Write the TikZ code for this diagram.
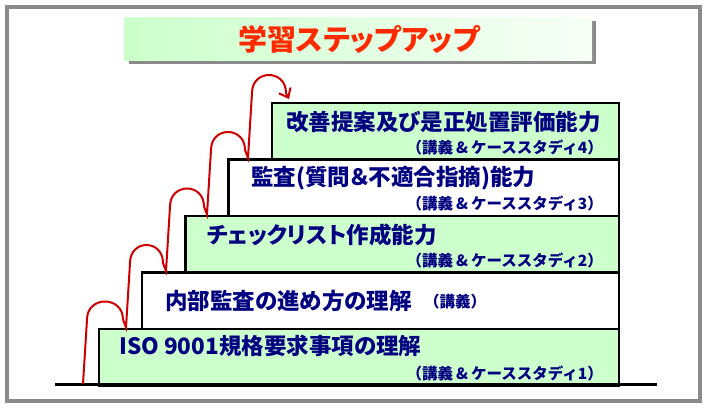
\documentclass[tikz,border=0pt]{standalone}
\usepackage{fontspec}
\usepackage{xcolor}
\usepackage{tikz}
\usetikzlibrary{arrows.meta}
\newfontfamily\jpmain{Noto Sans CJK JP}[RawFeature=+palt]
\newfontfamily\jpsub{Noto Sans CJK JP}
\definecolor{stepgreen}{HTML}{CCFFCC}
\definecolor{inkblue}{HTML}{000080}
\definecolor{hopred}{HTML}{CC0000}
\definecolor{headred}{HTML}{FF2A00}
\definecolor{framegray}{HTML}{8A8A8A}
\newcommand{\amp}{\hspace{3pt}\&\hspace{3pt}}
\tikzset{
  stepbox/.style={draw,line width=2.5pt,anchor=north east,minimum height=56.5pt,inner sep=0pt},
  steptxt/.style={anchor=west,inner sep=0pt,text=inkblue,font=\jpmain\bfseries\fontsize{22.5}{24}\selectfont},
  subtxt/.style={inner sep=0pt,text=inkblue,font=\jpsub\bfseries\fontsize{15.5}{17}\selectfont},
}

\begin{document}
\begin{tikzpicture}[x=1pt,y=-1pt]
\useasboundingbox (0,0) rectangle (709,408);
% frame and title
\draw[framegray,line width=4pt] (7,7) rectangle (700,401);
\fill[framegray] (129,21) rectangle (596,64);
\shade[left color=stepgreen,right color=stepgreen!15] (124,17) rectangle (592,60);
\node[text=headred,inner sep=0pt,font=\jpmain\bfseries\fontsize{29}{31}\selectfont] (head) at (359,39) {学習ステップアップ};
% steps
\node[stepbox,fill=stepgreen,minimum width=520pt] (b0) at (620,327.5) {};
\node[stepbox,fill=white,minimum width=476.75pt] (b1) at (620,271) {};
\node[stepbox,fill=stepgreen,minimum width=433.5pt] (b2) at (620,214.5) {};
\node[stepbox,fill=white,minimum width=390.25pt] (b3) at (620,158) {};
\node[stepbox,fill=stepgreen,minimum width=347pt] (b4) at (620,101.5) {};
\draw[line width=3pt] (55,384.5) -- (657,384.5);
\node[steptxt] (t0) at (119,346) {ISO 9001規格要求事項の理解};
\node[subtxt,anchor=east] (s0) at (603,373) {（講義\amp ケーススタディ1）};
\node[steptxt] (t1) at (165,301) {内部監査の進め方の理解};
\node[subtxt,anchor=west] (s1) at (424,302) {（講義）};
\node[steptxt] (t2) at (207,234.5) {チェックリスト作成能力};
\node[subtxt,anchor=east] (s2) at (603,260) {（講義\amp ケーススタディ2）};
\node[steptxt] (t3) at (251,178) {監査(質問＆不適合指摘)能力};
\node[subtxt,anchor=east] (s3) at (603,203.5) {（講義\amp ケーススタディ3）};
\node[steptxt] (t4) at (286,121.5) {改善提案及び是正処置評価能力};
\node[subtxt,anchor=east] (s4) at (603,147) {（講義\amp ケーススタディ4）};
% hops
\coordinate (p0) at (83,384);
\coordinate (p1) at (126,327.5);
\coordinate (p2) at (166,271);
\coordinate (p3) at (207,214.5);
\coordinate (p4) at (248,158);
\coordinate (tip) at (289,99);
\draw[hopred,line width=2pt,-{Straight Barb[length=8pt,width=13pt]}]
  (p0) -- (87,319.5) .. controls (87,295.5) and (123,295.5) .. (123,319.5) -- (p1)
  -- (130,263) .. controls (130,239) and (163,239) .. (163,263) -- (p2)
  -- (170,206.5) .. controls (170,182.5) and (204,182.5) .. (204,206.5) -- (p3)
  -- (211,150) .. controls (211,126) and (245,126) .. (245,150) -- (p4)
  -- (252,93) .. controls (252,69) and (286,69) .. (286,93) -- (tip);
\end{tikzpicture}
\end{document}
